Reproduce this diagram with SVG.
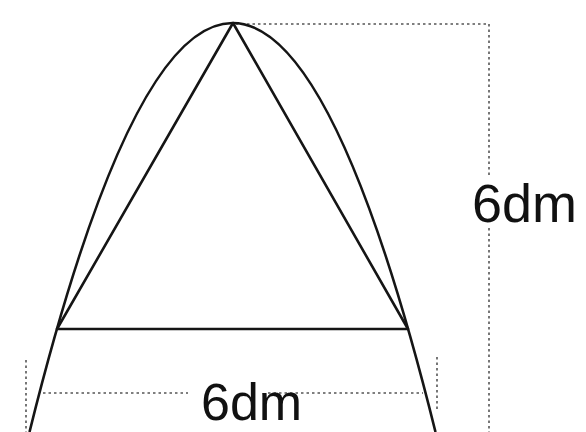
<svg xmlns="http://www.w3.org/2000/svg" width="586" height="432" viewBox="0 0 586 432">
<style>
.solid{fill:none;stroke:#151515;stroke-width:2.6;stroke-linejoin:round}
.dot{fill:none;stroke:#555;stroke-width:1.6;stroke-dasharray:2.5 3}
.lbl{font-family:"Liberation Sans",Arial,sans-serif;font-size:54px;fill:#111}
</style>
<rect width="586" height="432" fill="#fff"/>
<g id="dimensions">
<path class="dot" d="M236 24 H489 V178"/>
<path class="dot" d="M489 228 V432"/>
<path class="dot" d="M26 360 V432"/>
<path class="dot" d="M437 357 V412"/>
<path class="dot" d="M43 393 H188"/>
<path class="dot" d="M268 393 H423"/>
</g>
<g id="figure">
<path class="solid" d="M29.5 432 Q232.5 -386 435.5 432"/>
<path class="solid" d="M57 329 L233 23 L408 329 Z"/>
</g>
<g id="labels">
<text class="lbl" x="472" y="222">6dm</text>
<text class="lbl" x="201" y="420" style="font-size:52px">6dm</text>
</g>
</svg>
